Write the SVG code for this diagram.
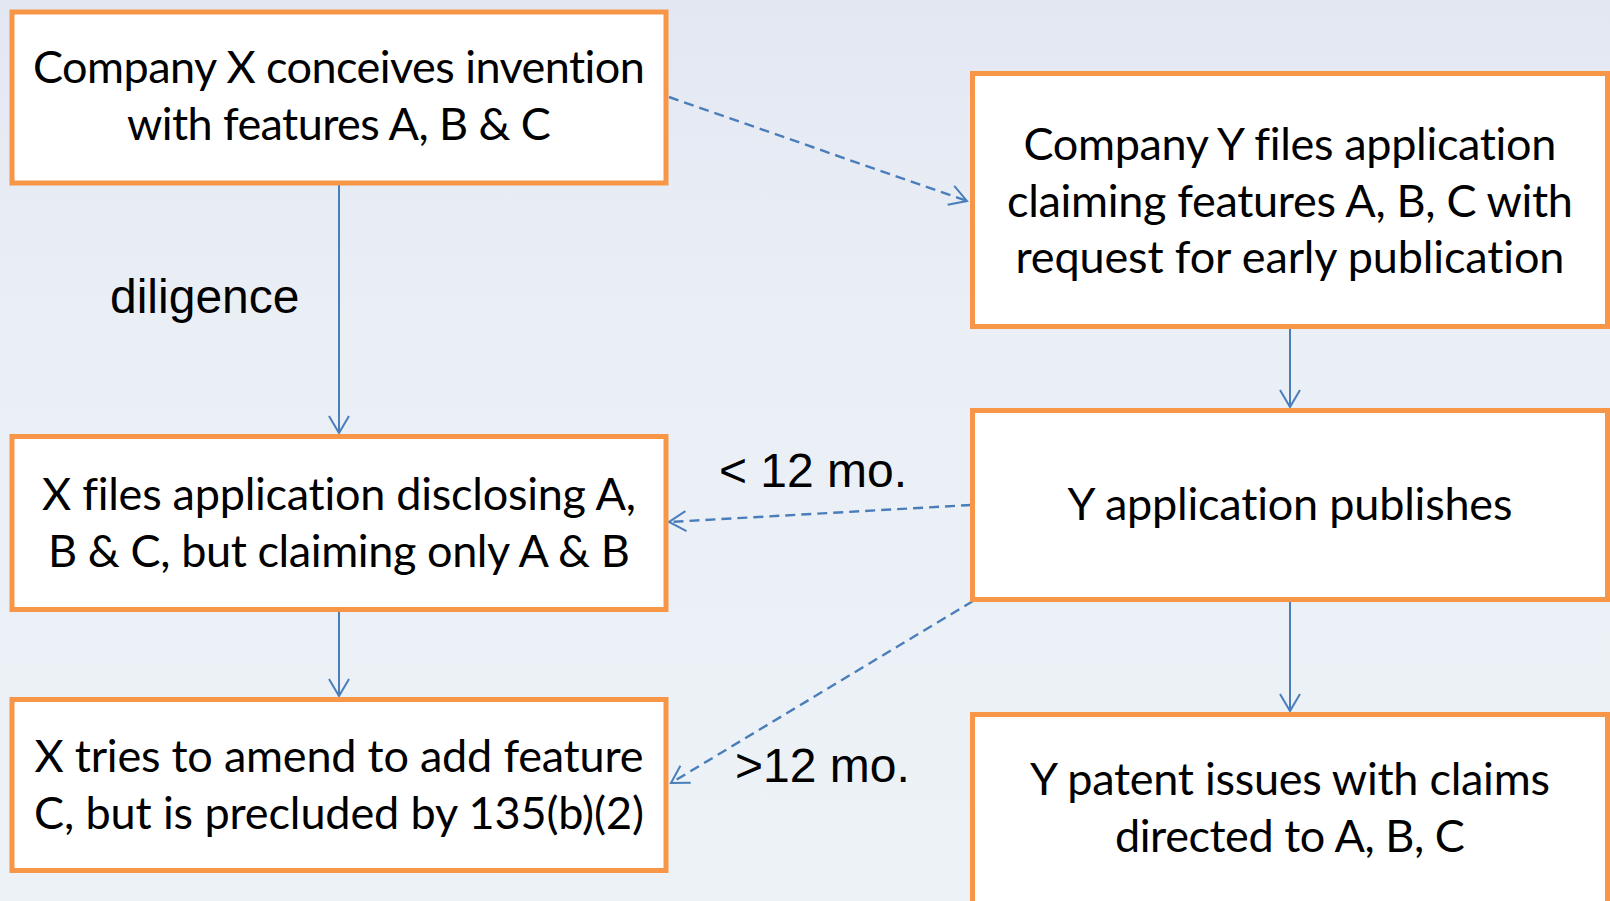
<svg xmlns="http://www.w3.org/2000/svg" width="1610" height="901" viewBox="0 0 1610 901">
  <defs>
    <linearGradient id="bg" x1="0" y1="0" x2="0" y2="1">
      <stop offset="0" stop-color="#e2e7f2"/>
      <stop offset="0.35" stop-color="#eaeff6"/>
      <stop offset="1" stop-color="#edf2f7"/>
    </linearGradient>
    <marker id="arr" markerUnits="userSpaceOnUse" markerWidth="24" markerHeight="24" viewBox="-20 -12 22 24" refX="0" refY="0" orient="auto">
      <path d="M -17 -10 L 0 0 L -17 10" fill="none" stroke="#4a7ebb" stroke-width="2"/>
    </marker>
    <style>
      .box { fill: #ffffff; stroke: #f79646; stroke-width: 5; }
      .bt { font-family: Lato, "Open Sans", "Noto Sans", sans-serif; font-size: 45px; fill: #000000; text-anchor: middle; font-variant-ligatures: none; font-feature-settings: "liga" 0, "clig" 0, "dlig" 0, "calt" 0; letter-spacing: 0.1px; }
      .lbl { font-family: "Liberation Sans", Arial, sans-serif; font-size: 48px; fill: #000000; }
      .solid { fill: none; stroke: #4a7ebb; stroke-width: 2; marker-end: url(#arr); }
      .dash { fill: none; stroke: #4a7ebb; stroke-width: 2.4; stroke-dasharray: 10 6; marker-end: url(#arr); }
    </style>
  </defs>
  <rect x="0" y="0" width="1610" height="901" fill="url(#bg)"/>

  <g id="connectors">
    <line class="solid" x1="339" y1="185" x2="339" y2="433"/>
    <line class="solid" x1="339" y1="611" x2="339" y2="696"/>
    <line class="solid" x1="1290" y1="329" x2="1290" y2="407"/>
    <line class="solid" x1="1290" y1="602" x2="1290" y2="711"/>
    <line class="dash" x1="669" y1="97" x2="967" y2="201"/>
    <line class="dash" x1="971" y1="505" x2="669" y2="522"/>
    <line class="dash" x1="973" y1="601" x2="671" y2="783"/>
  </g>

  <g id="n1">
    <rect class="box" x="12" y="12" width="654" height="171"/>
    <text class="bt" x="339" y="83" textLength="612">Company X conceives invention</text>
    <text class="bt" x="339" y="140" textLength="424">with features A, B &amp; C</text>
  </g>
  <g id="n2">
    <rect class="box" x="972.5" y="73.5" width="635" height="253"/>
    <text class="bt" x="1290" y="160" textLength="533">Company Y files application</text>
    <text class="bt" x="1290" y="217" textLength="566">claiming features A, B, C with</text>
    <text class="bt" x="1290" y="273" textLength="549">request for early publication</text>
  </g>
  <g id="n3">
    <rect class="box" x="12" y="436.5" width="654" height="173"/>
    <text class="bt" x="339" y="510" textLength="594">X files application disclosing A,</text>
    <text class="bt" x="339" y="567" textLength="582">B &amp; C, but claiming only A &amp; B</text>
  </g>
  <g id="n4">
    <rect class="box" x="972.5" y="410.5" width="635" height="189"/>
    <text class="bt" x="1290" y="520" textLength="445">Y application publishes</text>
  </g>
  <g id="n5">
    <rect class="box" x="12" y="699.5" width="654" height="171"/>
    <text class="bt" x="339" y="772" textLength="609">X tries to amend to add feature</text>
    <text class="bt" x="339" y="829" textLength="610">C, but is precluded by 135(b)(2)</text>
  </g>
  <g id="n6">
    <rect class="box" x="972.5" y="714.5" width="635" height="220"/>
    <text class="bt" x="1290" y="795" textLength="520">Y patent issues with claims</text>
    <text class="bt" x="1290" y="852" textLength="350">directed to A, B, C</text>
  </g>

  <g id="labels">
    <text class="lbl" x="110" y="313">diligence</text>
    <text class="lbl" x="719" y="487">&lt; 12 mo.</text>
    <text class="lbl" x="735" y="782">&gt;12 mo.</text>
  </g>
</svg>
